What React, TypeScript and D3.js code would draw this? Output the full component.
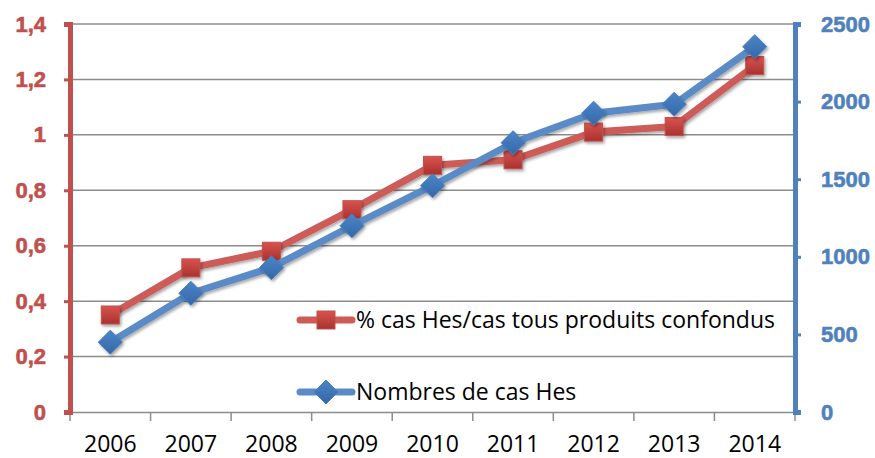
import React, { useEffect, useRef } from 'react';
import { select, scaleBand, scaleLinear, axisBottom, axisLeft, axisRight, line, format } from 'd3';

const years = ['2006', '2007', '2008', '2009', '2010', '2011', '2012', '2013', '2014'];
const pctValues = [0.35, 0.52, 0.58, 0.73, 0.89, 0.91, 1.01, 1.03, 1.25];
const countValues = [450, 765, 930, 1200, 1458, 1735, 1925, 1983, 2354];
const leftTicks = [0, 0.2, 0.4, 0.6, 0.8, 1, 1.2, 1.4];
const rightTicks = [0, 500, 1000, 1500, 2000, 2500];
const pctLabel = '% cas Hes/cas tous produits confondus';
const countLabel = 'Nombres de cas Hes';

const RED = '#C0504D';
const BLUE = '#4F81BD';
const FONT = '"Open Sans", sans-serif';
const BOLD_FONT = '"Liberation Sans", Arial, sans-serif';

const App: React.FC = () => {
  const svgRef = useRef<SVGSVGElement | null>(null);

  useEffect(() => {
    if (!svgRef.current) return;
    const width = 875;
    const height = 458;
    select(svgRef.current).selectAll('*').remove();

    const margin = { top: 24, right: 80, bottom: 46, left: 70 };
    const innerWidth = width - margin.left - margin.right;
    const innerHeight = height - margin.top - margin.bottom;

    const root = select(svgRef.current).attr('width', width).attr('height', height);

    const defs = root.append('defs');
    const shadow = defs.append('filter').attr('id', 'shadow')
      .attr('x', '-50%').attr('y', '-50%').attr('width', '200%').attr('height', '200%');
    shadow.append('feDropShadow').attr('dx', 1.5).attr('dy', 2).attr('stdDeviation', 1.5)
      .attr('flood-color', '#000').attr('flood-opacity', 0.35);
    const redGrad = defs.append('linearGradient').attr('id', 'redGrad')
      .attr('x1', 0).attr('y1', 0).attr('x2', 0).attr('y2', 1);
    redGrad.append('stop').attr('offset', '0%').attr('stop-color', '#D9534F');
    redGrad.append('stop').attr('offset', '100%').attr('stop-color', '#A8322F');
    const blueGrad = defs.append('linearGradient').attr('id', 'blueGrad')
      .attr('x1', 0).attr('y1', 0).attr('x2', 0).attr('y2', 1);
    blueGrad.append('stop').attr('offset', '0%').attr('stop-color', '#4A85C8');
    blueGrad.append('stop').attr('offset', '100%').attr('stop-color', '#3568A8');

    const svg = root.append('g').attr('transform', `translate(${margin.left},${margin.top})`);

    const x = scaleBand<string>().domain(years).range([0, innerWidth]);
    const yLeft = scaleLinear().domain([0, 1.4]).range([innerHeight, 0]);
    const yRight = scaleLinear().domain([0, 2500]).range([innerHeight, 0]);
    const cx = (d: string) => (x(d) || 0) + x.bandwidth() / 2;

    // Gridlines
    svg.append('g').selectAll('line').data(leftTicks.slice(1)).enter().append('line')
      .attr('x1', 0).attr('x2', innerWidth)
      .attr('y1', (d) => yLeft(d)).attr('y2', (d) => yLeft(d))
      .attr('stroke', '#8C8C8C').attr('stroke-width', 1.5);

    // X axis
    const xAxis = svg.append('g').attr('transform', `translate(0,${innerHeight})`)
      .call(axisBottom(x).tickSize(0).tickPadding(24));
    xAxis.select('.domain').attr('stroke', '#8C8C8C').attr('stroke-width', 1.5);
    xAxis.selectAll('text').attr('font-family', FONT).attr('font-size', 23).attr('fill', '#000');
    xAxis.selectAll('line.bound').data([...years.map((d) => x(d) || 0), innerWidth]).enter()
      .append('line').attr('class', 'bound')
      .attr('x1', (d) => d).attr('x2', (d) => d).attr('y1', 0).attr('y2', 9)
      .attr('stroke', '#8C8C8C').attr('stroke-width', 1.5);

    // Left axis
    const la = svg.append('g').call(
      axisLeft(yLeft).tickValues(leftTicks).tickSize(6).tickPadding(18)
        .tickFormat((d) => String(d).replace('.', ','))
    );
    la.select('.domain').attr('stroke', RED).attr('stroke-width', 5);
    la.selectAll('.tick line').attr('stroke', RED).attr('stroke-width', 3);
    la.selectAll('text').attr('font-family', BOLD_FONT).attr('font-size', 22)
      .style('font-weight', 700).attr('fill', RED)
      .attr('stroke', RED).attr('stroke-width', 0.6);

    // Right axis
    const ra = svg.append('g').attr('transform', `translate(${innerWidth},0)`).call(
      axisRight(yRight).tickValues(rightTicks).tickSize(6).tickPadding(20).tickFormat(format('d'))
    );
    ra.select('.domain').attr('stroke', BLUE).attr('stroke-width', 5);
    ra.selectAll('.tick line').attr('stroke', BLUE).attr('stroke-width', 3);
    ra.selectAll('text').attr('font-family', BOLD_FONT).attr('font-size', 22)
      .style('font-weight', 700).attr('fill', BLUE)
      .attr('stroke', BLUE).attr('stroke-width', 0.6);

    // Red series
    const redLine = line<number>().x((_, i) => cx(years[i])).y((d) => yLeft(d));
    svg.append('path').datum(pctValues).attr('d', redLine).attr('fill', 'none')
      .attr('stroke', '#CD5B58').attr('stroke-width', 7).attr('stroke-linejoin', 'round')
      .attr('filter', 'url(#shadow)');
    svg.append('g').selectAll('rect').data(pctValues).enter().append('rect')
      .attr('x', (_, i) => cx(years[i]) - 9).attr('y', (d) => yLeft(d) - 9)
      .attr('width', 18).attr('height', 18)
      .attr('fill', 'url(#redGrad)').attr('stroke', '#C0504D').attr('stroke-width', 1)
      .attr('filter', 'url(#shadow)');

    // Blue series
    const blueLine = line<number>().x((_, i) => cx(years[i])).y((d) => yRight(d));
    svg.append('path').datum(countValues).attr('d', blueLine).attr('fill', 'none')
      .attr('stroke', '#5A8BC7').attr('stroke-width', 7).attr('stroke-linejoin', 'round')
      .attr('filter', 'url(#shadow)');
    svg.append('g').selectAll('path').data(countValues).enter().append('path')
      .attr('d', (d, i) => {
        const px = cx(years[i]);
        const py = yRight(d);
        const r = 12;
        return `M${px},${py - r}L${px + r},${py}L${px},${py + r}L${px - r},${py}Z`;
      })
      .attr('fill', 'url(#blueGrad)').attr('stroke', '#4A7EBB').attr('stroke-width', 1)
      .attr('filter', 'url(#shadow)');

    // Legend
    const legend = root.append('g');
    const entries = [
      { label: pctLabel, color: '#CD5B58', y: 320, kind: 'square' },
      { label: countLabel, color: '#5A8BC7', y: 392, kind: 'diamond' },
    ];
    entries.forEach((e) => {
      const g = legend.append('g');
      g.append('line').attr('x1', 300).attr('x2', 352).attr('y1', e.y).attr('y2', e.y)
        .attr('stroke', e.color).attr('stroke-width', 7).attr('stroke-linecap', 'round');
      if (e.kind === 'square') {
        g.append('rect').attr('x', 317).attr('y', e.y - 9).attr('width', 18).attr('height', 18)
          .attr('fill', 'url(#redGrad)').attr('stroke', RED).attr('stroke-width', 1);
      } else {
        const r = 12;
        g.append('path').attr('d', `M326,${e.y - r}L${326 + r},${e.y}L326,${e.y + r}L${326 - r},${e.y}Z`)
          .attr('fill', 'url(#blueGrad)').attr('stroke', '#4A7EBB').attr('stroke-width', 1);
      }
      g.append('text').attr('x', 356).attr('y', e.y).attr('dy', '0.35em')
        .attr('font-family', FONT).attr('font-size', 23).attr('fill', '#000').text(e.label);
    });
  }, []);

  return <svg ref={svgRef} style={{ position: 'absolute', left: 0, top: 0 }}></svg>;
};

export default App;
